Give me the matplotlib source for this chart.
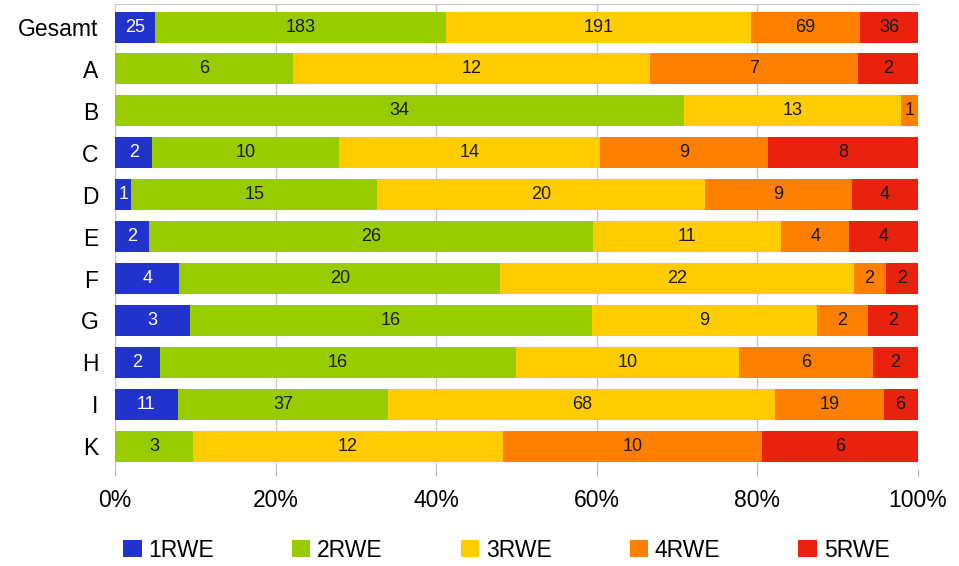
import numpy as np
import matplotlib
matplotlib.use("Agg")
import matplotlib.pyplot as plt

plt.rcParams['font.family'] = ['Liberation Sans', 'DejaVu Sans']

gruppen = ["Gesamt", "A", "B", "C", "D", "E", "F", "G", "H", "I", "K"]
stufen = ["1RWE", "2RWE", "3RWE", "4RWE", "5RWE"]
rwe1 = [25, 0, 0, 2, 1, 2, 4, 3, 2, 11, 0]
rwe2 = [183, 6, 34, 10, 15, 26, 20, 16, 16, 37, 3]
rwe3 = [191, 12, 13, 14, 20, 11, 22, 9, 10, 68, 12]
rwe4 = [69, 7, 1, 9, 9, 4, 2, 2, 6, 19, 10]
rwe5 = [36, 2, 0, 8, 4, 4, 2, 2, 2, 6, 6]
farben = ["#2233cc", "#99cc00", "#ffcc00", "#ff8000", "#e8220f"]

werte = np.array([rwe1, rwe2, rwe3, rwe4, rwe5], dtype=float)
anteile = werte / werte.sum(axis=0) * 100

fig = plt.figure(figsize=(9.59, 5.66), dpi=100)
ax = fig.add_axes([0.12, 0.171, 0.837, 0.822])

y = np.arange(len(gruppen))
links = np.zeros(len(gruppen))
for i, name in enumerate(stufen):
    ax.barh(y, anteile[i], left=links, height=0.74, color=farben[i],
            label=name, zorder=3)
    for j in range(len(gruppen)):
        if werte[i, j] > 0:
            ax.text(links[j] + anteile[i, j] / 2, y[j], f"{int(werte[i, j])}",
                    ha="center", va="center", fontsize=13,
                    color="white" if i == 0 else "#1a1a1a", zorder=4)
    links += anteile[i]

ax.set_xlim(0, 100)
ax.set_ylim(len(gruppen) - 0.45, -0.55)
ax.set_yticks(y)
ax.set_yticklabels(gruppen, fontsize=16.5)
ax.set_xticks(np.arange(0, 101, 20))
ax.set_xticklabels([f"{v}%" for v in range(0, 101, 20)], fontsize=16.5)
ax.tick_params(axis="y", length=0, pad=12)
ax.tick_params(axis="x", length=5, color="#b0b0b0", pad=9)
ax.grid(axis="x", color="#c8c8c8", linewidth=1, zorder=0)
for s in ["left", "right", "bottom"]:
    ax.spines[s].set_visible(False)
ax.spines["top"].set_color("#c8c8c8")

fig.legend(loc="center", bbox_to_anchor=(0.528, 0.028), ncol=5, frameon=False,
           fontsize=16.5, handlelength=0.8, handleheight=0.8, handletextpad=0.3,
           columnspacing=3.4)

fig.savefig("out.png", dpi=100)
